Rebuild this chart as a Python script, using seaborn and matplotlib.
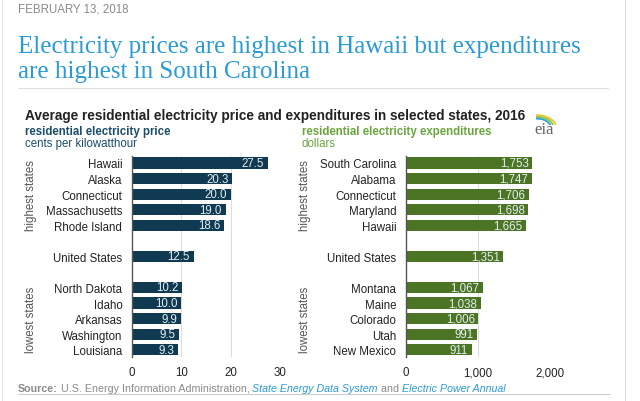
import numpy as np
import pandas as pd
import matplotlib
matplotlib.use("Agg")
import matplotlib.pyplot as plt
import seaborn as sns
from matplotlib.text import Annotation
from matplotlib.transforms import blended_transform_factory
from matplotlib.lines import Line2D

# --- data ---
price_states = ["Hawaii", "Alaska", "Connecticut", "Massachusetts", "Rhode Island",
                "United States",
                "North Dakota", "Idaho", "Arkansas", "Washington", "Louisiana"]
price_values = [27.5, 20.3, 20.0, 19.0, 18.6, 12.5, 10.2, 10.0, 9.9, 9.5, 9.3]
price_labels = ["27.5", "20.3", "20.0", "19.0", "18.6", "12.5",
                "10.2", "10.0", "9.9", "9.5", "9.3"]

exp_states = ["South Carolina", "Alabama", "Connecticut", "Maryland", "Hawaii",
              "United States",
              "Montana", "Maine", "Colorado", "Utah", "New Mexico"]
exp_values = [1753, 1747, 1706, 1698, 1665, 1351, 1067, 1038, 1006, 991, 911]
exp_labels = ["1,753", "1,747", "1,706", "1,698", "1,665", "1,351",
              "1,067", "1,038", "1,006", "991", "911"]

price_ticks = [0, 10, 20, 30]
exp_ticks = [0, 1000, 2000]
exp_ticklabels = ["0", "1,000", "2,000"]

# five highest, the US average, five lowest -> blank row between groups
group_sizes = [5, 1, 5]
pos = []
start = 0
for n in group_sizes:
    pos += list(range(start, start + n))
    start += n + 1
pos = np.array(pos, dtype=float)

sns.set_theme(style="white")
plt.rcParams["font.family"] = ["Liberation Sans", "DejaVu Sans"]

W, H = 640, 402
fig = plt.figure(figsize=(6.4, 4.02), dpi=100)


def fx(px):
    return px / W


def fy(py):
    return 1 - py / H


NAVY = "#0f3a52"
GREEN = "#4b7424"
BLUE = "#2a9bd6"
GRAY = "#8a8a8a"

# --- header texts ---
fig.text(fx(18), fy(9), "FEBRUARY 13, 2018", fontsize=8.3, color=GRAY, va="center")
fig.text(fx(18), fy(47), "Electricity prices are highest in Hawaii but expenditures",
         fontsize=18, color=BLUE, va="center", family="Liberation Serif")
fig.text(fx(18), fy(72), "are highest in South Carolina",
         fontsize=18, color=BLUE, va="center", family="Liberation Serif")
fig.add_artist(Line2D([fx(18), fx(608)], [fy(89), fy(89)], color="#dddddd", lw=0.8))

fig.text(fx(25), fy(116),
         "Average residential electricity price and expenditures in selected states, 2016",
         fontsize=9.8, fontweight="bold", color="#222222", va="center")
fig.text(fx(25), fy(132), "residential electricity price", fontsize=8.3,
         fontweight="bold", color="#1d4d6b", va="center")
fig.text(fx(25), fy(144), "cents per kilowatthour", fontsize=8.3,
         color="#1d4d6b", va="center")
fig.text(fx(302), fy(132), "residential electricity expenditures", fontsize=8.3,
         fontweight="bold", color="#6aa63e", va="center")
fig.text(fx(302), fy(144), "dollars", fontsize=8.3, color="#6aa63e", va="center")

# eia logo
fig.text(fx(544), fy(130), "eia", fontsize=12, color="#666666", ha="center",
         va="center", family="Liberation Serif")
lax = fig.add_axes([fx(536), fy(126), fx(22), 11 / H])
lax.set_axis_off()
th = np.linspace(0.08 * np.pi, 0.62 * np.pi, 30)
for r, c in zip([1.0, 0.86, 0.72], ["#f2c230", "#8cc63f", "#29a3dc"]):
    lax.plot(r * np.cos(th) - 0.15, r * np.sin(th) - 0.8, color=c, lw=1.3,
             solid_capstyle="round")
lax.set_xlim(-0.2, 0.95)
lax.set_ylim(-0.6, 0.3)

# --- panels ---
step = 15.56
ytop = 164 - 0.45 * step
ybot = ytop + 12.9 * step


def panel(left_px, width_px, states, values, labels, color, xmax, ticks, ticklabels):
    ax = fig.add_axes([fx(left_px), fy(ybot), fx(width_px), (ybot - ytop) / H])
    df = pd.DataFrame({"pos": pos, "value": values})
    sns.barplot(data=df, x="value", y="pos", orient="h", native_scale=True,
                color=color, saturation=1, width=0.72, ax=ax, edgecolor="none")
    ax.set_ylim(pos.max() + 0.45, -0.45)
    ax.set_xlim(0, xmax)
    ax.set_yticks(pos)
    ax.set_yticklabels(states)
    ax.set_xticks(ticks)
    ax.set_xticklabels(ticklabels)
    ax.set_xlabel("")
    ax.set_ylabel("")
    ax.tick_params(axis="both", length=0, labelsize=8.3, colors="#222222")
    ax.tick_params(axis="y", pad=7)
    ax.tick_params(axis="x", pad=7)
    for s in ["top", "right", "bottom"]:
        ax.spines[s].set_visible(False)
    ax.spines["left"].set_color("#555555")
    ax.spines["left"].set_linewidth(1.0)
    for t in ticks[1:]:
        ax.axvline(t, color="#dddddd", lw=0.8, zorder=0)
    for p, v, lab in zip(pos, values, labels):
        ax.text(v - xmax * 0.025, p, lab, ha="right", va="center",
                fontsize=8.3, color="#e6edf1")
    tr = blended_transform_factory(ax.transAxes, ax.transData)
    off = -101 / width_px
    ax.text(off, 2, "highest states", rotation=90, transform=tr, ha="center",
            va="center", fontsize=8.3, color="#555555")
    ax.text(off, 10, "lowest states", rotation=90, transform=tr, ha="center",
            va="center", fontsize=8.3, color="#555555")
    return ax


panel(132, 148, price_states, price_values, price_labels, NAVY, 30,
      price_ticks, [str(t) for t in price_ticks])
panel(406, 144, exp_states, exp_values, exp_labels, GREEN, 2000,
      exp_ticks, exp_ticklabels)

# --- source line ---
prev = fig.text(fx(18), fy(389), "Source:", fontsize=7.7, fontweight="bold",
                color=GRAY, va="center")
parts = [(" U.S. Energy Information Administration, ", GRAY, "normal"),
         ("State Energy Data System", BLUE, "italic"),
         (" and ", GRAY, "normal"),
         ("Electric Power Annual", BLUE, "italic")]
for txt, col, sty in parts:
    prev = fig.add_artist(Annotation(txt, xy=(1, 0), xycoords=prev, va="bottom",
                                     ha="left", fontsize=7.7, color=col, style=sty))

fig.add_artist(Line2D([fx(18), fx(610)], [fy(395), fy(395)], color="#cccccc", lw=0.8))
fig.add_artist(Line2D([fx(625), fx(625)], [0, 1], color="#dddddd", lw=0.8))
fig.add_artist(Line2D([fx(2), fx(2)], [0, 1], color="#e6e6e6", lw=0.8))

fig.savefig("out.png", dpi=100)
